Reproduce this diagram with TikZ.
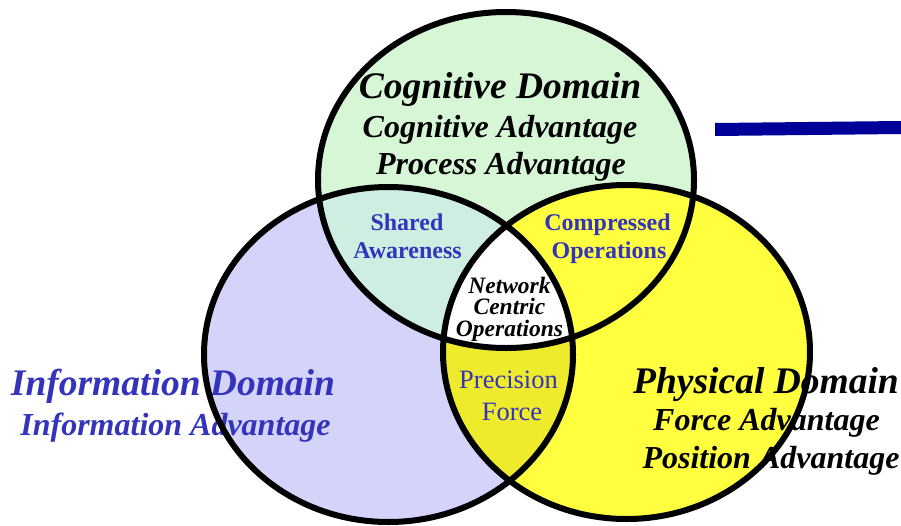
\documentclass[tikz,border=0pt]{standalone}
\usepackage{fontspec}
\setmainfont{Liberation Serif}
\definecolor{cogfill}{RGB}{214,246,214}
\definecolor{infofill}{RGB}{212,212,250}
\definecolor{physfill}{RGB}{255,255,64}
\definecolor{sharedfill}{RGB}{205,238,224}
\definecolor{precfill}{RGB}{238,234,44}
\definecolor{txtblue}{RGB}{51,51,187}
\definecolor{barblue}{RGB}{0,0,153}
\begin{document}
\begin{tikzpicture}[x=1pt,y=-1pt,
  lbl/.style={anchor=base,inner sep=0pt,outer sep=0pt},
  titlefont/.style={lbl,font=\fontsize{37.5}{37.5}\selectfont\bfseries\itshape},
  subfont/.style={lbl,font=\fontsize{32}{32}\selectfont\bfseries\itshape},
  overlapfont/.style={lbl,text=txtblue,font=\fontsize{24}{24}\selectfont\bfseries},
  ncofont/.style={inner sep=0pt,outer sep=0pt,align=center,
    font=\fontsize{23.5}{21.5}\selectfont\bfseries\itshape},
  precfont/.style={lbl,text=txtblue,font=\fontsize{26.5}{26.5}\selectfont},
  outline/.style={draw=black,line width=6pt}]
\useasboundingbox (0,0) rectangle (901,525);
\clip (0,0) rectangle (901,525);
\def\topE{(506,180) ellipse [x radius=188pt, y radius=168pt]}
\def\leftE{(388.5,354.5) ellipse [x radius=184.5pt, y radius=167.5pt]}
\def\rightE{(626.5,352) ellipse [x radius=183.5pt, y radius=167pt]}
% fills
\fill[infofill] \leftE;
\fill[cogfill] \topE;
\fill[physfill] \rightE;
\begin{scope}
  \clip \topE;
  \fill[sharedfill] \leftE;
\end{scope}
\begin{scope}
  \clip \leftE;
  \fill[precfill] \rightE;
\end{scope}
\begin{scope}
  \clip \topE;
  \clip \leftE;
  \fill[white] \rightE;
\end{scope}
% blue bar
\fill[barblue] (715,123) -- (901,121) -- (901,134) -- (715,136) -- cycle;
% texts
\node[titlefont] (cogT) at (500,98) {Cognitive Domain};
\node[subfont] (cogA) at (500,137) {Cognitive Advantage};
\node[subfont] (cogP) at (501,174) {Process Advantage};
\node[titlefont,text=txtblue] (infT) at (173,395) {Information Domain};
\node[subfont,text=txtblue] (infA) at (175.5,435) {Information Advantage};
\node[titlefont] (phyT) at (766,393) {Physical Domain};
\node[subfont] (phyF) at (766.5,430) {Force Advantage};
\node[subfont] (phyP) at (771,468) {Position Advantage};
\node[overlapfont] (sh1) at (407,230) {Shared};
\node[overlapfont] (sh2) at (407.5,258) {Awareness};
\node[overlapfont] (co1) at (607.5,230) {Compressed};
\node[overlapfont] (co2) at (609,258) {Operations};
\node[ncofont] (nco) at (509.5,309) {Network\\Centric\\Operations};
\node[precfont] (pf1) at (508.5,388) {Precision};
\node[precfont] (pf2) at (512,420) {Force};
% outlines
\draw[outline] \topE;
\draw[outline] \leftE;
\draw[outline] \rightE;
\end{tikzpicture}
\end{document}
